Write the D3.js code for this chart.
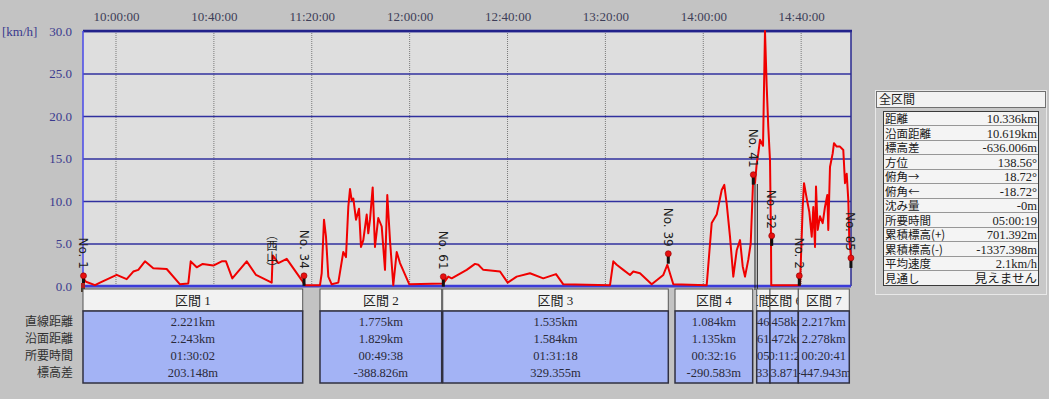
<!DOCTYPE html>
<html>
<head>
<meta charset="utf-8">
<script src="https://cdn.jsdelivr.net/npm/d3@7"></script>
<style>
	body { margin: 0; background: #c3c3c3; }
	svg { display: block; }
	text { font-family: "Liberation Serif", "Noto Sans CJK JP", serif; }
</style>
</head>
<body>
<svg id="chart" width="1049" height="399"></svg>
<script>
// axis ticks
const timeTicks = ["10:00:00", "10:40:00", "11:20:00", "12:00:00", "12:40:00", "13:20:00", "14:00:00", "14:40:00"];
const speedTicks = [0, 5, 10, 15, 20, 25, 30];

// speed track (time, km/h)
const trackTimes = [
	"09:46:43", "09:47:44", "09:51:25", "09:53:28", "10:00:17", "10:04:22", "10:07:04", "10:09:07", "10:11:51", "10:15:14",
	"10:20:43", "10:26:09", "10:29:33", "10:30:32", "10:32:59", "10:35:26", "10:39:46", "10:43:12", "10:44:57", "10:47:32",
	"10:53:25", "10:57:13", "11:03:38", "11:04:02", "11:04:34", "11:06:20", "11:09:46", "11:15:53", "11:17:14", "11:23:22",
	"11:24:04", "11:25:00", "11:25:49", "11:26:46", "11:28:09", "11:30:51", "11:32:53", "11:33:59", "11:34:56", "11:35:38",
	"11:36:19", "11:36:59", "11:38:05", "11:39:18", "11:40:07", "11:41:04", "11:42:27", "11:43:06", "11:43:48", "11:44:54",
	"11:45:50", "11:47:11", "11:48:35", "11:49:56", "11:50:52", "11:51:58", "11:53:19", "11:54:43", "11:56:04", "11:59:52",
	"12:13:46", "12:15:48", "12:17:11", "12:23:19", "12:26:43", "12:28:04", "12:30:06", "12:36:56", "12:40:04", "12:43:45",
	"12:49:11", "12:54:37", "12:59:49", "13:02:48", "13:21:53", "13:23:14", "13:24:37", "13:27:19", "13:30:03", "13:31:24",
	"13:34:08", "13:38:55", "13:43:40", "13:45:18", "13:47:45", "14:01:24", "14:03:26", "14:05:29", "14:07:32", "14:08:35",
	"14:09:34", "14:10:55", "14:12:16", "14:13:40", "14:15:01", "14:16:07", "14:17:03", "14:18:24", "14:19:23", "14:20:26",
	"14:21:08", "14:21:50", "14:22:29", "14:23:11", "14:24:25", "14:25:13", "14:25:55", "14:26:34", "14:27:16", "14:27:40",
	"14:27:47", "14:39:32", "14:40:38", "14:41:10", "14:42:16", "14:43:20", "14:44:19", "14:44:58", "14:45:40", "14:46:04",
	"14:46:46", "14:47:42", "14:48:48", "14:49:44", "14:50:41", "14:51:05", "14:51:47", "14:52:53", "14:53:25", "14:54:31",
	"14:55:52", "14:57:13", "14:57:55", "14:58:37", "14:59:16", "14:59:40", "15:00:22"
];
const trackSpeeds = [
	0.9, 0.5, 0.1, 0.4, 1.3, 0.8, 1.7, 1.9, 2.9, 2.1,
	2.0, 0.2, 0.3, 2.9, 2.2, 2.6, 2.4, 2.9, 2.9, 0.9,
	2.9, 1.3, 0.4, 3.6, 3.4, 2.7, 3.2, 0.7, 0.1, 0.1,
	1.5, 7.8, 5.8, 1.1, 0.2, 0.4, 4.0, 3.4, 9.3, 11.4,
	10.1, 10.3, 7.8, 9.1, 4.6, 5.4, 8.4, 6.2, 7.8, 11.6,
	4.6, 8.0, 7.0, 1.9, 10.7, 5.4, 0.1, 4.0, 2.7, 0.2,
	0.3, 1.1, 0.9, 1.9, 2.6, 2.5, 1.9, 1.7, 0.4, 1.1,
	1.5, 0.9, 1.4, 0.2, 0.1, 2.9, 2.5, 1.9, 1.3, 1.7,
	1.5, 0.2, 1.3, 2.5, 0.2, 0.1, 7.4, 8.4, 11.3, 11.9,
	9.7, 5.8, 1.1, 4.2, 5.4, 2.3, 1.1, 3.1, 5.0, 12.9,
	12.1, 14.4, 15.6, 17.2, 16.5, 30.0, 23.5, 18.7, 14.8, 5.8,
	0.1, 0.1, 9.3, 12.1, 10.3, 8.7, 5.8, 9.3, 4.6, 11.7,
	6.6, 8.2, 7.4, 9.3, 10.7, 6.6, 14.0, 15.6, 16.8, 16.4,
	16.4, 16.0, 12.1, 13.2, 10.1, 5.4, 3.4
];

// waypoints
const markerNames = ["No. 1", "No. 34", "No. 61", "No. 39", "No. 41", "No. 32", "No. 2", "No. 85"];
const markerTimes = ["09:46:43", "11:16:50", "12:13:46", "13:45:42", "14:20:26", "14:27:58", "14:39:14", "15:00:20"];
const markerSpeeds = [1.2, 1.2, 1.1, 3.8, 13.1, 5.9, 1.2, 3.3];
const peakName = ["︵", "西", "山", "︶"];
const peakTime = "11:04:00";
const dividerTimes = ["14:21:08", "14:22:05"];

// sections
const sectionNames = ["区間 1", "区間 2", "区間 3", "区間 4", "区間 5", "区間 6", "区間 7"];
const sectionStart = ["09:46:31", "11:23:22", "12:13:31", "13:48:27", "14:21:50", "14:27:16", "14:38:50"];
const sectionEnd = ["11:16:18", "12:13:06", "13:45:42", "14:20:11", "14:27:16", "14:38:50", "14:59:40"];
const rowNames = ["直線距離", "沿面距離", "所要時間", "標高差"];
const secDistance = ["2.221km", "1.775km", "1.535km", "1.084km", "0.046km", "1.458km", "2.217km"];
const secSurface = ["2.243km", "1.829km", "1.584km", "1.135km", "0.061km", "1.472km", "2.278km"];
const secDuration = ["01:30:02", "00:49:38", "01:31:18", "00:32:16", "00:05:02", "00:11:22", "00:20:41"];
const secElevation = ["203.148m", "-388.826m", "329.355m", "-290.583m", "-7.331m", "-33.871m", "-447.943m"];

// whole route summary
const summaryLabels = ["距離", "沿面距離", "標高差", "方位", "俯角→", "俯角←", "沈み量", "所要時間", "累積標高(+)", "累積標高(-)", "平均速度", "見通し"];
const summaryValues = ["10.336km", "10.619km", "-636.006m", "138.56°", "18.72°", "-18.72°", "-0m", "05:00:19", "701.392m", "-1337.398m", "2.1km/h", "見えません"];

const svg = d3.select("#chart");
const parse = d3.timeParse("%H:%M:%S");

const plotL = 83, plotR = 851, plotT = 31, plotB = 286;

const x = d3.scaleTime()
	.domain([parse("09:46:31"), parse("15:00:22")])
	.range([plotL, plotR]);

const y = d3.scaleLinear()
	.domain([0, 30])
	.range([plotB, plotT]);

//plot background
svg.append("rect")
	.attr("x", plotL).attr("y", plotT)
	.attr("width", plotR - plotL).attr("height", plotB - plotT)
	.attr("fill", "#dedede");

//time labels
const xAxis = svg.append("g")
	.attr("transform", `translate(0,${plotT})`)
	.call(d3.axisTop(x)
		.tickValues(timeTicks.map(parse))
		.tickFormat(d3.timeFormat("%H:%M:%S"))
		.tickSize(0)
		.tickPadding(10));
xAxis.select(".domain").remove();
xAxis.selectAll("text")
	.attr("fill", "#3e3e58")
	.style("font-size", "13px");

//vertical dotted time grid
svg.append("g")
	.selectAll("line")
	.data(timeTicks.map(parse))
	.enter().append("line")
	.attr("x1", d => x(d)).attr("x2", d => x(d))
	.attr("y1", plotT).attr("y2", plotB)
	.attr("stroke", "#7a7a7a")
	.attr("stroke-width", 1)
	.attr("stroke-dasharray", "1,1");

//horizontal grid + y labels
const yAxis = svg.append("g")
	.attr("transform", `translate(${plotL},0)`)
	.call(d3.axisLeft(y)
		.tickValues(speedTicks)
		.tickFormat(d3.format(".1f"))
		.tickSize(-(plotR - plotL))
		.tickPadding(11));
yAxis.select(".domain").remove();
yAxis.selectAll(".tick line")
	.attr("stroke", "#30309e")
	.attr("stroke-width", 1.5);
yAxis.selectAll("text")
	.attr("fill", "#3a3a8e")
	.style("font-size", "13px");

svg.append("text")
	.attr("x", 2).attr("y", 36)
	.attr("fill", "#3a3a8e")
	.style("font-size", "13px")
	.text("[km/h]");

//frame
svg.append("line").attr("x1", plotL).attr("x2", plotR + 1).attr("y1", plotT).attr("y2", plotT)
	.attr("stroke", "#22228a").attr("stroke-width", 2.5);
svg.append("line").attr("x1", plotL).attr("x2", plotL).attr("y1", plotT).attr("y2", plotB)
	.attr("stroke", "#4848e8").attr("stroke-width", 1.5);
svg.append("line").attr("x1", plotR).attr("x2", plotR).attr("y1", plotT).attr("y2", plotB)
	.attr("stroke", "#2a2a90").attr("stroke-width", 1.5);
svg.append("line").attr("x1", plotL).attr("x2", plotR).attr("y1", plotB).attr("y2", plotB)
	.attr("stroke", "#3c3cd8").attr("stroke-width", 2.5);

//section dividers inside plot
svg.append("g")
	.selectAll("line")
	.data(dividerTimes.map(parse))
	.enter().append("line")
	.attr("x1", d => x(d)).attr("x2", d => x(d))
	.attr("y1", y(12)).attr("y2", plotB + 4)
	.attr("stroke", "#1a1a1a")
	.attr("stroke-width", 1);

//speed line
const track = trackTimes.map((t, i) => ({ t: parse(t), v: trackSpeeds[i] }));
const line = d3.line()
	.x(d => x(d.t))
	.y(d => y(d.v));

svg.append("path")
	.datum(track)
	.attr("d", line)
	.attr("fill", "none")
	.attr("stroke", "#f00000")
	.attr("stroke-width", 2)
	.attr("stroke-linejoin", "round");

//peak label (vertical writing)
const peakX = x(parse(peakTime));
svg.append("g")
	.selectAll("text")
	.data(peakName)
	.enter().append("text")
	.attr("x", peakX - 0.5)
	.attr("y", (d, i) => 239 + i * 11)
	.attr("text-anchor", "middle")
	.attr("fill", "#222")
	.style("font-family", "'Noto Sans CJK JP'")
	.style("font-size", "11.5px")
	.text(d => d);

//waypoint markers
const markers = svg.append("g")
	.selectAll("g")
	.data(markerNames.map((n, i) => ({ name: n, t: parse(markerTimes[i]), v: markerSpeeds[i] })))
	.enter().append("g")
	.attr("transform", d => `translate(${x(d.t)},${y(d.v)})`);

markers.append("rect")
	.attr("x", -1.5).attr("y", 1)
	.attr("width", 3).attr("height", 9)
	.attr("fill", "#111");

markers.append("circle")
	.attr("r", 3)
	.attr("fill", "#e81010")
	.attr("stroke", "#8a0000")
	.attr("stroke-width", 0.6);

markers.append("text")
	.attr("transform", "translate(-4.5,-7) rotate(90)")
	.attr("text-anchor", "end")
	.attr("fill", "#202020")
	.style("font-family", "'DejaVu Sans', sans-serif")
	.style("font-size", "12px")
	.text(d => d.name);

//hiker icon at start
svg.append("rect").attr("x", x(parse("09:46:31")) - 2).attr("y", plotB - 3)
	.attr("width", 4).attr("height", 5).attr("fill", "#b02020");
svg.append("rect").attr("x", x(parse("09:46:31")) - 2).attr("y", plotB + 2)
	.attr("width", 4).attr("height", 4).attr("fill", "#4a3a2a");

//section table
const sections = sectionNames.map((n, i) => ({
	name: n,
	x0: x(parse(sectionStart[i])),
	x1: x(parse(sectionEnd[i])),
	values: [secDistance[i], secSurface[i], secDuration[i], secElevation[i]]
}));

const headTop = 289, headBottom = 311, bodyBottom = 383;
const rowY = [326, 343, 360, 377];

const defs = svg.append("defs");
defs.selectAll("clipPath")
	.data(sections)
	.enter().append("clipPath")
	.attr("id", (d, i) => "sec" + i)
	.append("rect")
	.attr("x", d => d.x0).attr("y", headTop)
	.attr("width", d => d.x1 - d.x0).attr("height", bodyBottom - headTop);

const sec = svg.append("g")
	.selectAll("g")
	.data(sections)
	.enter().append("g");

sec.append("rect")
	.attr("x", d => d.x0).attr("y", headTop)
	.attr("width", d => d.x1 - d.x0).attr("height", headBottom - headTop)
	.attr("fill", "#f2f2f2")
	.attr("stroke", "#555")
	.attr("stroke-width", 1);

sec.append("rect")
	.attr("x", d => d.x0).attr("y", headBottom)
	.attr("width", d => d.x1 - d.x0).attr("height", bodyBottom - headBottom)
	.attr("fill", "#a3b3f5")
	.attr("stroke", "#303040")
	.attr("stroke-width", 1.5);

const secText = sec.append("g")
	.attr("clip-path", (d, i) => `url(#sec${i})`);

secText.append("text")
	.attr("x", d => (d.x0 + d.x1) / 2)
	.attr("y", 305)
	.attr("text-anchor", "middle")
	.attr("fill", "#222")
	.style("font-size", "13px")
	.text(d => d.name);

secText.selectAll(".val")
	.data(d => d.values.map(v => ({ v: v, cx: (d.x0 + d.x1) / 2 })))
	.enter().append("text")
	.attr("class", "val")
	.attr("x", d => d.cx)
	.attr("y", (d, i) => rowY[i])
	.attr("text-anchor", "middle")
	.attr("fill", "#2a2a3a")
	.style("font-size", "12.5px")
	.text(d => d.v);

svg.append("g")
	.selectAll("text")
	.data(rowNames)
	.enter().append("text")
	.attr("x", 73)
	.attr("y", (d, i) => rowY[i])
	.attr("text-anchor", "end")
	.attr("fill", "#303030")
	.style("font-family", "'Noto Sans CJK JP'")
	.style("font-size", "12px")
	.text(d => d);

//summary panel
const panel = svg.append("g");
panel.append("rect")
	.attr("x", 875.5).attr("y", 90.5)
	.attr("width", 171).attr("height", 204)
	.attr("fill", "#c8c8c8")
	.attr("stroke", "#e8e8e8");

panel.append("rect")
	.attr("x", 876.5).attr("y", 91.5)
	.attr("width", 169).attr("height", 16)
	.attr("fill", "#f2f2f2")
	.attr("stroke", "#707070");

panel.append("text")
	.attr("x", 879).attr("y", 104)
	.attr("fill", "#222")
	.style("font-family", "'Noto Sans CJK JP'")
	.style("font-size", "12px")
	.text("全区間");

const rowH = 14.5, tableTop = 111.5;
const rows = panel.selectAll(".row")
	.data(summaryLabels.map((l, i) => ({ label: l, value: summaryValues[i] })))
	.enter().append("g")
	.attr("class", "row")
	.attr("transform", (d, i) => `translate(0,${tableTop + i * rowH})`);

rows.append("rect")
	.attr("x", 883.5).attr("y", 0)
	.attr("width", 155).attr("height", rowH)
	.attr("fill", "#f4f4f4");

rows.append("line")
	.attr("x1", 883.5).attr("x2", 1038.5)
	.attr("y1", rowH).attr("y2", rowH)
	.attr("stroke", "#3a3a3a");

rows.append("text")
	.attr("x", 885).attr("y", 11.5)
	.attr("fill", "#202020")
	.style("font-family", "'Noto Sans CJK JP'")
	.style("font-size", "11.5px")
	.text(d => d.label);

rows.append("text")
	.attr("x", 1037).attr("y", 11.5)
	.attr("text-anchor", "end")
	.attr("fill", "#202020")
	.style("font-size", "12.5px")
	.text(d => d.value);

panel.append("rect")
	.attr("x", 883.5).attr("y", tableTop)
	.attr("width", 155).attr("height", rowH * summaryLabels.length)
	.attr("fill", "none")
	.attr("stroke", "#3a3a3a");
</script>
</body>
</html>
